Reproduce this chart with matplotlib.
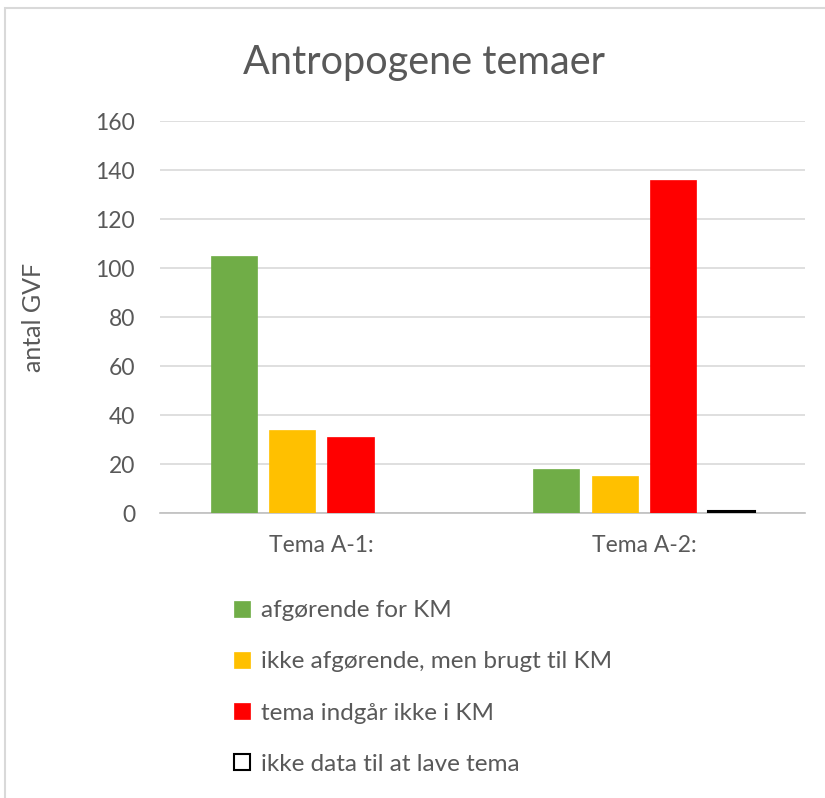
import numpy as np
import matplotlib.pyplot as plt
from matplotlib.patches import Rectangle

plt.rcParams['font.family'] = ['Lato', 'DejaVu Sans']

# data
categories = ["Tema A-1:", "Tema A-2:"]
series_names = ["afgørende for KM",
                "ikke afgørende, men brugt til KM",
                "tema indgår ikke i KM",
                "ikke data til at lave tema"]
afgorende = [105, 18]
ikke_afgorende = [34, 15]
indgaar_ikke = [31, 136]
ikke_data = [0, 1]

colors = ["#70ad47", "#ffc000", "#ff0000", "white"]
edges = ["#70ad47", "#ffc000", "#ff0000", "black"]
txt = "#595959"

fig = plt.figure(figsize=(8.25, 7.98), dpi=100)
ax = fig.add_axes([0.194, 0.357, 0.782, 0.491])

x = np.arange(len(categories))
step = 0.181
width = 0.143
values = [afgorende, ikke_afgorende, indgaar_ikke, ikke_data]
for i, vals in enumerate(values):
    # zero values are not drawn (no outline line)
    v = np.array(vals, dtype=float)
    v[v == 0] = np.nan
    ax.bar(x + (i - 1.5) * step, v, width, color=colors[i],
           edgecolor=edges[i], linewidth=1.5 if i == 3 else 0.5,
           label=series_names[i], zorder=3)

ax.set_xlim(-0.5, 1.5)
ax.set_ylim(0, 160)
ax.set_yticks(range(0, 161, 20))
ax.set_xticks(x)
ax.set_xticklabels(categories)
ax.grid(axis='y', color='#d9d9d9', linewidth=1.2, zorder=0)
for s in ['top', 'right', 'left']:
    ax.spines[s].set_visible(False)
ax.spines['bottom'].set_color('#bfbfbf')
ax.spines['bottom'].set_linewidth(1.2)
ax.tick_params(axis='both', length=0, labelsize=16.5, colors=txt, pad=16)
ax.tick_params(axis='y', pad=18)
ax.set_ylabel("antal GVF", fontsize=18, color=txt)
ax.yaxis.set_label_coords(-0.178, 0.5)

fig.text(0.514, 0.922, "Antropogene temaer", ha='center', va='center',
         fontsize=28.5, color=txt)

fig.legend(loc='upper left', bbox_to_anchor=(0.272, 0.26), frameon=False,
           fontsize=17.5, labelcolor=txt, handlelength=0.65, handleheight=0.65,
           handletextpad=0.45, labelspacing=1.24, borderaxespad=0)

fig.add_artist(Rectangle((0.006, -0.01), 1.1, 1.0, transform=fig.transFigure,
                         fill=False, edgecolor='#d9d9d9', linewidth=1.5))

fig.savefig("out.png", dpi=100)
